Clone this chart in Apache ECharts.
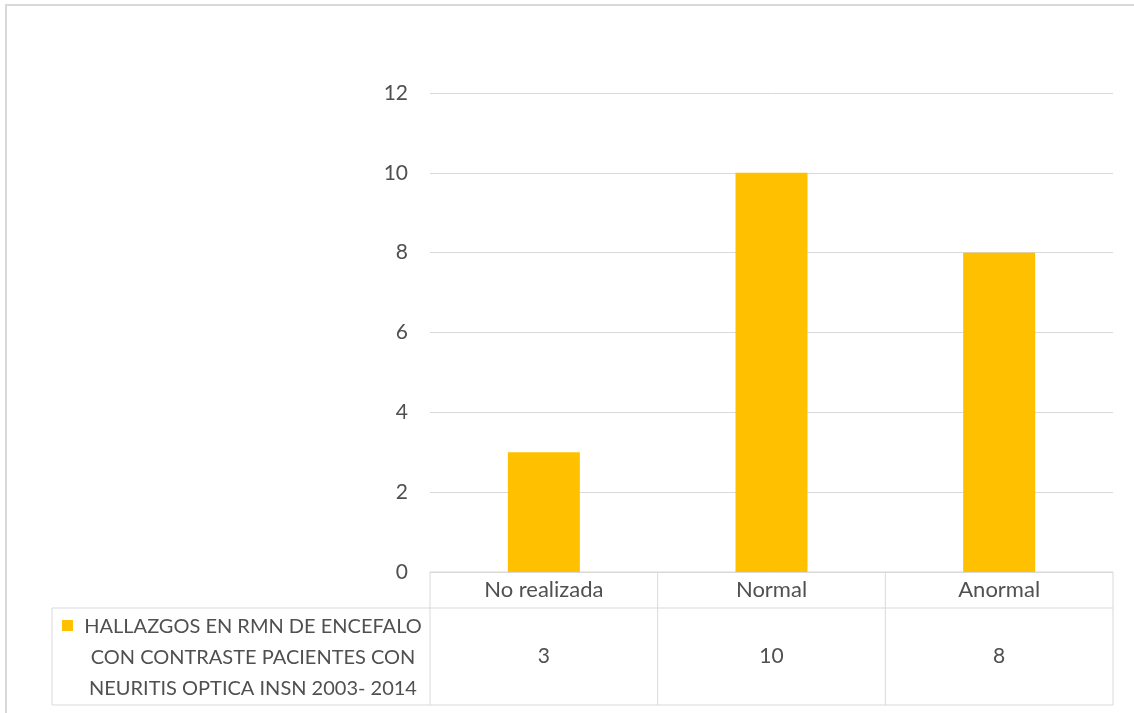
<!DOCTYPE html>
<html><head><meta charset="utf-8">
<script src="https://cdn.jsdelivr.net/npm/echarts@6/dist/echarts.min.js"></script>
<style>html,body{margin:0;padding:0;background:#fff}#c{width:1134px;height:713px}</style>
</head><body><div id="c"></div>
<script>
const categories = ['No realizada', 'Normal', 'Anormal'];
const values = [3, 10, 8];
const seriesName = 'HALLAZGOS EN RMN DE ENCEFALO\nCON CONTRASTE PACIENTES CON\nNEURITIS OPTICA INSN 2003- 2014';
const yTicks = { min: 0, max: 12, interval: 2 };

const FONT = 'Lato';
const FS = 21;
const TXT = '#505050';
const LINE = '#d9d9d9';
const BAR = '#FFC000';

const chart = echarts.init(document.getElementById('c'), null, { renderer: 'canvas' });

const L = 430, R = 1113, T0 = 572, T1 = 608, T2 = 705, LX = 52;
function vline(x, y1, y2) { return { type: 'line', shape: { x1: x, y1: y1, x2: x, y2: y2 }, style: { stroke: LINE, lineWidth: 1 }, silent: true }; }
function hline(y, x1, x2) { return { type: 'line', shape: { x1: x1, y1: y, x2: x2, y2: y }, style: { stroke: LINE, lineWidth: 1 }, silent: true }; }

const colW = (R - L) / categories.length;
const tableLines = [hline(T0, L, R), hline(T1, LX, R), hline(T2, LX, R), vline(LX, T1, T2)];
for (let i = 0; i <= categories.length; i++) tableLines.push(vline(L + colW * i, T0, T2));

chart.setOption({
  animation: false,
  backgroundColor: '#fff',
  grid: { left: L, right: 1134 - R, top: 93, bottom: 713 - T0, containLabel: false },
  xAxis: {
    type: 'category',
    data: categories,
    axisLine: { show: false },
    axisTick: { show: false },
    axisLabel: {
      margin: 0,
      verticalAlign: 'top',
      formatter: function (v, i) { return '{c|' + v + '}\n{v|' + values[i] + '}'; },
      rich: {
        c: { fontFamily: FONT, fontSize: 22, color: TXT, lineHeight: 36, align: 'center' },
        v: { fontFamily: FONT, fontSize: FS, color: TXT, lineHeight: 97, align: 'center' }
      }
    }
  },
  yAxis: {
    type: 'value',
    min: yTicks.min, max: yTicks.max, interval: yTicks.interval,
    axisLine: { show: false },
    axisTick: { show: false },
    axisLabel: { margin: 22, fontFamily: FONT, fontSize: FS, color: TXT },
    splitLine: { lineStyle: { color: LINE, width: 1 } }
  },
  series: [{
    name: seriesName,
    type: 'bar',
    data: values,
    barWidth: 72,
    itemStyle: { color: BAR },
    silent: true
  }],
  graphic: [
    { type: 'rect', shape: { x: 6, y: 5, width: 1300, height: 900 }, style: { fill: 'none', stroke: LINE, lineWidth: 2 }, silent: true },
    ...tableLines,
    { type: 'rect', shape: { x: 62, y: 620, width: 11, height: 11 }, style: { fill: BAR }, silent: true },
    { type: 'text', x: 253, y: 611, style: { text: seriesName, fontFamily: FONT, fontSize: 20, fill: TXT, align: 'center', verticalAlign: 'top', lineHeight: 31 }, silent: true }
  ]
});
</script></body></html>
